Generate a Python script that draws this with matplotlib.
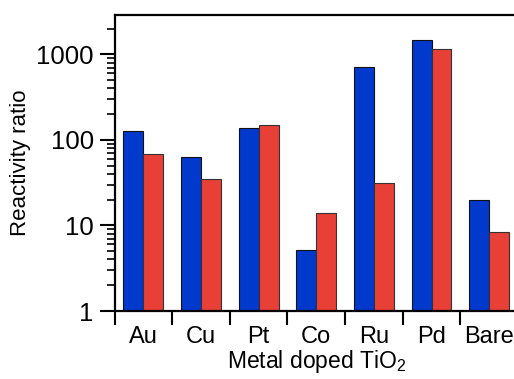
import numpy as np
import matplotlib
matplotlib.use('Agg')
import matplotlib.pyplot as plt
from matplotlib.ticker import FixedLocator, LogLocator, NullFormatter

plt.rcParams['font.family'] = ['Liberation Sans', 'DejaVu Sans']
plt.rcParams['mathtext.fontset'] = 'custom'
plt.rcParams['mathtext.rm'] = 'Liberation Sans'
plt.rcParams['mathtext.it'] = 'Liberation Sans'

metals = ['Au', 'Cu', 'Pt', 'Co', 'Ru', 'Pd', 'Bare']
blue_vals = [127, 62.5, 137, 5.1, 703, 1465, 20]
red_vals = [67.7, 34.8, 147.6, 13.8, 31.5, 1159, 8.3]

fig = plt.figure(figsize=(5.14, 3.79), dpi=100)
ax = fig.add_axes([0.2228, 0.1794, 0.785, 0.7818])

x = np.arange(len(metals))
w = 0.345
ax.bar(x - w / 2, blue_vals, w, color='#0039CC', edgecolor='#111111', linewidth=0.8)
ax.bar(x + w / 2, red_vals, w, color='#E84036', edgecolor='#333333', linewidth=0.8)

ax.set_yscale('log')
ax.set_ylim(1, 2900)
ax.set_xlim(-0.5, len(metals) - 0.5)

ax.set_xticks(x)
ax.set_xticklabels(metals, fontsize=17)
ax.xaxis.set_minor_locator(FixedLocator(np.arange(-0.5, len(metals), 1.0)))
ax.tick_params(axis='x', which='major', length=0, pad=11)
ax.tick_params(axis='x', which='minor', length=10, width=1.5, direction='out')

ax.set_yticks([1, 10, 100, 1000])
ax.set_yticklabels(['1', '10', '100', '1000'], fontsize=18.5)
ax.yaxis.set_minor_locator(LogLocator(base=10, subs=np.arange(2, 10)))
ax.yaxis.set_minor_formatter(NullFormatter())
ax.tick_params(axis='y', which='major', length=11, width=1.5, pad=4)
ax.tick_params(axis='y', which='minor', length=6, width=1.2)

for s in ax.spines.values():
    s.set_linewidth(1.6)

ax.set_ylabel('Reactivity ratio', fontsize=16, labelpad=4)
ax.set_xlabel('Metal doped TiO$_2$', fontsize=16.5, labelpad=0)

plt.savefig('out.png', dpi=100)
